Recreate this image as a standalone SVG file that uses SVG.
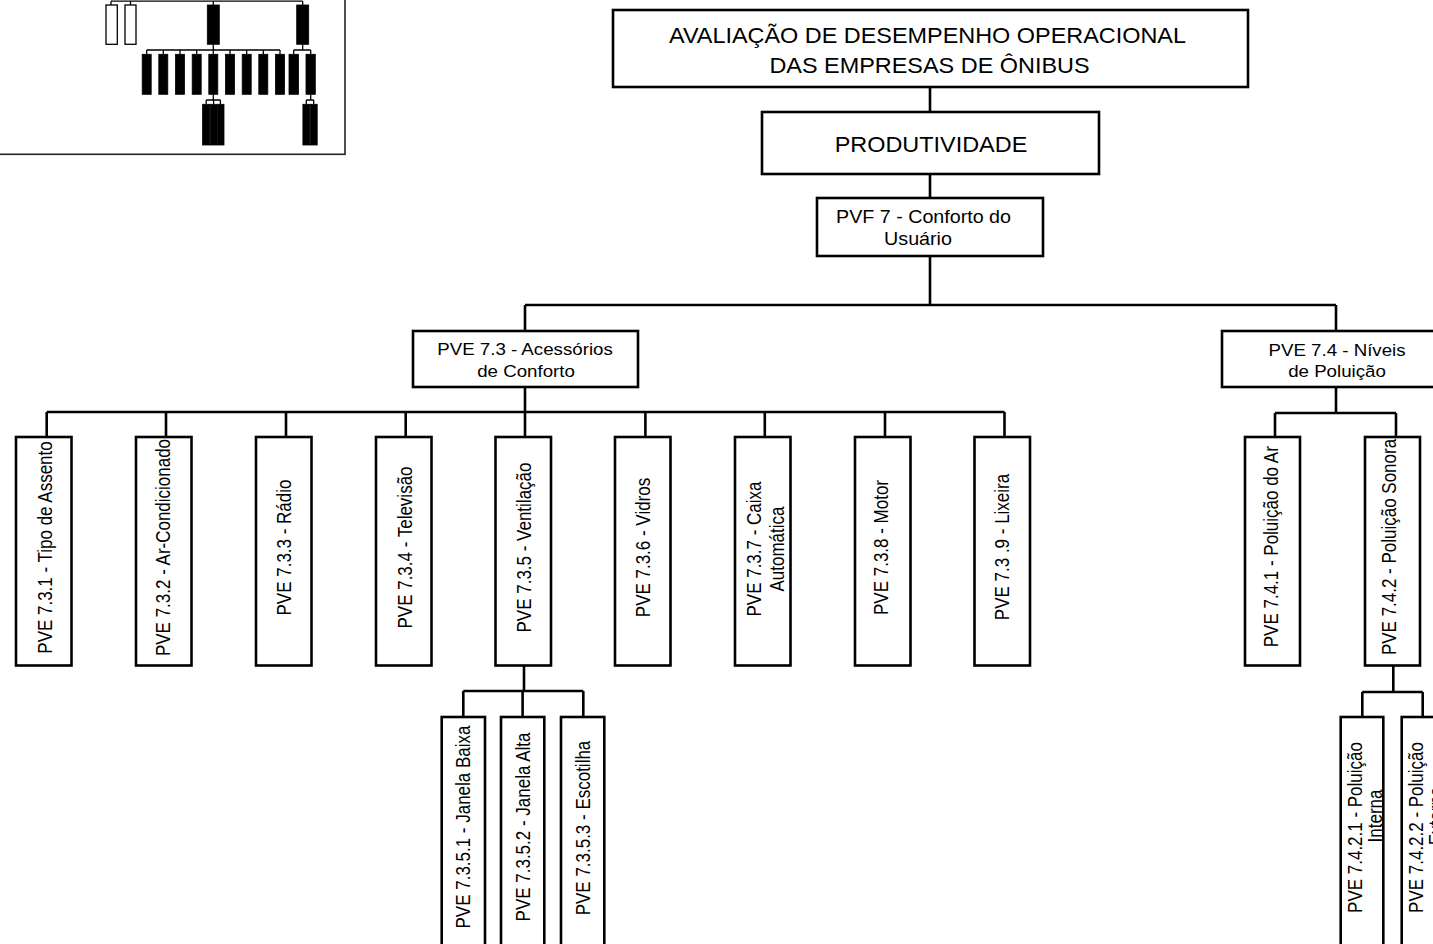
<svg xmlns="http://www.w3.org/2000/svg" width="1433" height="944" viewBox="0 0 1433 944">
  <style>
    .box { fill: #fff; stroke: #000; stroke-width: 2.6; }
    .wire { fill: none; stroke: #000; stroke-width: 2.6; }
    .t { font-family: "Liberation Sans", Arial, sans-serif; fill: #000; text-anchor: middle; }
    .big { font-size: 21.3px; }
    .mid { font-size: 17.9px; }
    .sm { font-size: 17px; }
    .mini-wire { fill: none; stroke: #000; stroke-width: 1.3; }
    .mini-open { fill: #fff; stroke: #000; stroke-width: 1.3; }
    .mini-full { fill: #000; stroke: #000; stroke-width: 0.8; }
  </style>

  <!-- overview thumbnail of the whole tree -->
  <g id="overview">
    <rect x="-3" y="-3" width="348" height="157.3" fill="#fff" stroke="#222" stroke-width="1.6"/>
    <path class="mini-wire" d="M111 1.2H302.7 M111 1.2V5 M130.5 1.2V5 M213.3 1.2V5 M302.7 1.2V5
      M213.3 44.3V50 M146.7 50H280 M302.7 44.3V50 M293.7 50H310.7
      M146.7 50V54.3 M163.3 50V54.3 M180 50V54.3 M196.7 50V54.3 M213.3 50V54.3 M230 50V54.3 M246.7 50V54.3 M263.3 50V54.3 M280 50V54.3 M293.7 50V54.3 M310.7 50V54.3
      M213.3 94.3V100 M206.2 100H220.4 M206.2 100V104.3 M213.6 100V104.3 M220.4 100V104.3
      M310.7 94.3V100 M306.3 100H313.7 M306.3 100V104.3 M313.7 100V104.3"/>
    <rect class="mini-open" x="106" y="5" width="11.3" height="39.3"/>
    <rect class="mini-open" x="125" y="5" width="11" height="39.3"/>
    <rect class="mini-full" x="207.3" y="5" width="12" height="39.3"/>
    <rect class="mini-full" x="296.7" y="5" width="12" height="39.3"/>
    <rect class="mini-full" x="142.2" y="54.3" width="9" height="40"/>
    <rect class="mini-full" x="158.8" y="54.3" width="9" height="40"/>
    <rect class="mini-full" x="175.5" y="54.3" width="9" height="40"/>
    <rect class="mini-full" x="192.2" y="54.3" width="9" height="40"/>
    <rect class="mini-full" x="208.8" y="54.3" width="9" height="40"/>
    <rect class="mini-full" x="225.5" y="54.3" width="9" height="40"/>
    <rect class="mini-full" x="242.2" y="54.3" width="9" height="40"/>
    <rect class="mini-full" x="258.8" y="54.3" width="9" height="40"/>
    <rect class="mini-full" x="275.5" y="54.3" width="9" height="40"/>
    <rect class="mini-full" x="289" y="54.3" width="9.5" height="40"/>
    <rect class="mini-full" x="306" y="54.3" width="9.3" height="40"/>
    <rect class="mini-full" x="202.6" y="104.3" width="7" height="40.7"/>
    <rect class="mini-full" x="210.2" y="104.3" width="6.8" height="40.7"/>
    <rect class="mini-full" x="217.6" y="104.3" width="6.4" height="40.7"/>
    <rect class="mini-full" x="302.9" y="104.3" width="6.8" height="40.7"/>
    <rect class="mini-full" x="310.3" y="104.3" width="6.9" height="40.7"/>
  </g>

  <!-- connectors -->
  <g id="connectors">
    <path class="wire" d="M930 87V112 M930 174V198 M930 256V305 M525 305H1336 M525 305V331 M1336 305V331"/>
    <path class="wire" d="M525 387V412 M46.7 412H1004.5
      M46.7 412V437 M166 412V437 M286 412V437 M405.7 412V437 M525 412V437 M645.4 412V437 M764.8 412V437 M885 412V437 M1004.5 412V437"/>
    <path class="wire" d="M1336 387V413 M1275 413H1396 M1275 413V437 M1396 413V437"/>
    <path class="wire" d="M524 665.5V691 M463.3 691H583.3 M463.3 691V717 M522.6 691V717 M583.3 691V717"/>
    <path class="wire" d="M1393.3 665.5V692 M1362.3 692H1422.7 M1362.3 692V717 M1422.7 692V717"/>
  </g>

  <!-- root -->
  <g id="n-root">
    <rect class="box" x="613" y="10" width="635" height="77"/>
    <text class="t big" transform="translate(927.5,42.5) scale(1.1,1)">AVALIAÇÃO DE DESEMPENHO OPERACIONAL</text>
    <text class="t big" transform="translate(929.5,72.5) scale(1.1,1)">DAS EMPRESAS DE ÔNIBUS</text>
  </g>

  <g id="n-produtividade">
    <rect class="box" x="762" y="112" width="337" height="62"/>
    <text class="t big" transform="translate(931,151.7) scale(1.1,1)">PRODUTIVIDADE</text>
  </g>

  <g id="n-pvf7">
    <rect class="box" x="817" y="198" width="226" height="58"/>
    <text class="t mid" transform="translate(923.5,222.5) scale(1.1,1)">PVF 7 - Conforto do</text>
    <text class="t mid" transform="translate(918,245) scale(1.1,1)">Usuário</text>
  </g>

  <g id="n-pve73">
    <rect class="box" x="413" y="331" width="225" height="56"/>
    <text class="t sm" transform="translate(525,355) scale(1.1,1)">PVE 7.3 - Acessórios</text>
    <text class="t sm" transform="translate(526,377.3) scale(1.1,1)">de Conforto</text>
  </g>

  <g id="n-pve74">
    <rect class="box" x="1222" y="331" width="228" height="56"/>
    <text class="t sm" transform="translate(1337,356) scale(1.1,1)">PVE 7.4 - Níveis</text>
    <text class="t sm" transform="translate(1337,377.3) scale(1.1,1)">de Poluição</text>
  </g>

  <!-- PVE 7.3 children -->
  <g id="n-731">
    <rect class="box" x="16" y="437" width="55.5" height="228.5"/>
    <text class="t sm" transform="translate(52,547.5) scale(1.15,1) rotate(-90)">PVE 7.3.1 - Tipo de Assento</text>
  </g>
  <g id="n-732">
    <rect class="box" x="136" y="437" width="55.5" height="228.5"/>
    <text class="t sm" transform="translate(170,547.5) scale(1.15,1) rotate(-90)">PVE 7.3.2 - Ar-Condicionado</text>
  </g>
  <g id="n-733">
    <rect class="box" x="256" y="437" width="55.5" height="228.5"/>
    <text class="t sm" transform="translate(291.2,547.5) scale(1.15,1) rotate(-90)">PVE 7.3.3 - Rádio</text>
  </g>
  <g id="n-734">
    <rect class="box" x="376" y="437" width="55.5" height="228.5"/>
    <text class="t sm" transform="translate(411.5,547.5) scale(1.15,1) rotate(-90)">PVE 7.3.4 - Televisão</text>
  </g>
  <g id="n-735">
    <rect class="box" x="495.5" y="437" width="55.5" height="228.5"/>
    <text class="t sm" transform="translate(531,547.5) scale(1.15,1) rotate(-90)">PVE 7.3.5 - Ventilação</text>
  </g>
  <g id="n-736">
    <rect class="box" x="615" y="437" width="55.5" height="228.5"/>
    <text class="t sm" transform="translate(649.5,547.5) scale(1.15,1) rotate(-90)">PVE 7.3.6 - Vidros</text>
  </g>
  <g id="n-737">
    <rect class="box" x="735" y="437" width="55.5" height="228.5"/>
    <text class="t sm" transform="translate(760.7,549) scale(1.15,1) rotate(-90)">PVE 7.3.7 - Caixa<tspan x="0" dy="20">Automática</tspan></text>
  </g>
  <g id="n-738">
    <rect class="box" x="855" y="437" width="55.5" height="228.5"/>
    <text class="t sm" transform="translate(888,547.5) scale(1.15,1) rotate(-90)">PVE 7.3.8 - Motor</text>
  </g>
  <g id="n-739">
    <rect class="box" x="974.5" y="437" width="55.5" height="228.5"/>
    <text class="t sm" transform="translate(1009,547) scale(1.15,1) rotate(-90)">PVE 7.3 .9 - Lixeira</text>
  </g>

  <!-- PVE 7.3.5 children -->
  <g id="n-7351">
    <rect class="box" x="441.7" y="717" width="43.3" height="245"/>
    <text class="t sm" transform="translate(470.2,827) scale(1.15,1) rotate(-90)">PVE 7.3.5.1 - Janela Baixa</text>
  </g>
  <g id="n-7352">
    <rect class="box" x="501" y="717" width="43.3" height="245"/>
    <text class="t sm" transform="translate(529.5,827) scale(1.15,1) rotate(-90)">PVE 7.3.5.2 - Janela Alta</text>
  </g>
  <g id="n-7353">
    <rect class="box" x="561" y="717" width="43.3" height="245"/>
    <text class="t sm" transform="translate(589.8,828) scale(1.15,1) rotate(-90)">PVE 7.3.5.3 - Escotilha</text>
  </g>

  <!-- PVE 7.4 children -->
  <g id="n-741">
    <rect class="box" x="1245" y="437" width="55" height="228.5"/>
    <text class="t sm" transform="translate(1278,546.7) scale(1.15,1) rotate(-90)">PVE 7.4.1 - Poluição do Ar</text>
  </g>
  <g id="n-742">
    <rect class="box" x="1365" y="437" width="55" height="228.5"/>
    <text class="t sm" transform="translate(1396,547) scale(1.15,1) rotate(-90)">PVE 7.4.2 - Poluição Sonora</text>
  </g>

  <!-- PVE 7.4.2 children -->
  <g id="n-7421">
    <rect class="box" x="1340.7" y="717" width="42.6" height="245"/>
    <text class="t sm" transform="translate(1361.7,827.5) scale(1.15,1) rotate(-90)">PVE 7.4.2.1 - Poluição<tspan x="11.5" dy="17.4">Interna</tspan></text>
  </g>
  <g id="n-7422">
    <rect class="box" x="1401.7" y="717" width="42.6" height="245"/>
    <text class="t sm" transform="translate(1422.7,827.5) scale(1.15,1) rotate(-90)">PVE 7.4.2.2 - Poluição<tspan x="11.5" dy="17.4">Externa</tspan></text>
  </g>
</svg>
